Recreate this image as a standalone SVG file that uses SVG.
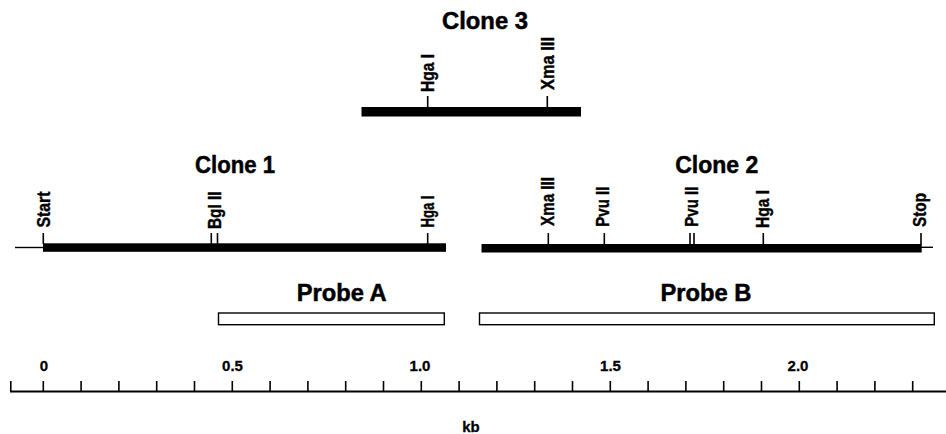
<svg xmlns="http://www.w3.org/2000/svg" width="946" height="434" viewBox="0 0 946 434">
<style>
.bg{fill:#fff}
.bar{fill:#000}
.tk{stroke:#000;stroke-width:1.6;fill:none}
.thin{stroke:#000;stroke-width:1.4;fill:none}
.probe{fill:#fff;stroke:#000;stroke-width:1.4}
.title{font-family:"Liberation Sans",Arial,sans-serif;font-weight:bold;font-size:24px;fill:#000;stroke:#000;stroke-width:0.5;text-anchor:middle}
.lab{font-family:"Liberation Sans",Arial,sans-serif;font-weight:bold;font-size:18px;fill:#000;stroke:#000;stroke-width:0.4;text-anchor:start}
.num{font-family:"Liberation Sans",Arial,sans-serif;font-weight:bold;font-size:15px;fill:#000;stroke:#000;stroke-width:0.3;text-anchor:middle}
.axis{stroke:#000;stroke-width:2;fill:none}
</style>
<rect class="bg" x="0" y="0" width="946" height="434"/>

<g id="clone3">
  <text class="title" x="485" y="28.5" textLength="86" lengthAdjust="spacingAndGlyphs">Clone 3</text>
  <rect class="bar" x="361.5" y="107" width="219.5" height="9.5"/>
  <path class="tk" d="M427.7 96V107M547.3 96V107"/>
  <text class="lab" transform="translate(434,92) rotate(-90)" textLength="38" lengthAdjust="spacingAndGlyphs">Hga I</text>
  <text class="lab" transform="translate(553.5,90) rotate(-90)" textLength="53" lengthAdjust="spacingAndGlyphs">Xma III</text>
</g>

<g id="clone1">
  <text class="title" x="235" y="173" textLength="80" lengthAdjust="spacingAndGlyphs">Clone 1</text>
  <path class="thin" d="M15 247.5H43"/>
  <rect class="bar" x="43" y="243.3" width="403" height="8.5"/>
  <path class="tk" d="M43.3 233V244M211.3 233V244M217.5 233V244M427.7 233V244"/>
  <text class="lab" transform="translate(50,227.5) rotate(-90)" textLength="36" lengthAdjust="spacingAndGlyphs">Start</text>
  <text class="lab" transform="translate(220.5,229) rotate(-90)" textLength="37.5" lengthAdjust="spacingAndGlyphs">Bgl II</text>
  <text class="lab" transform="translate(434,227.5) rotate(-90)" textLength="32" lengthAdjust="spacingAndGlyphs">Hga I</text>
</g>

<g id="clone2">
  <text class="title" x="716.7" y="173" textLength="83" lengthAdjust="spacingAndGlyphs">Clone 2</text>
  <rect class="bar" x="481.5" y="244" width="440.2" height="8.5"/>
  <path class="thin" d="M921 247.3H933"/>
  <path class="tk" d="M548.3 233V244.5M604.3 233V244.5M690 233V244.5M694 233V244.5M763.3 233V244.5M921 233V244.5"/>
  <text class="lab" transform="translate(554,226) rotate(-90)" textLength="49" lengthAdjust="spacingAndGlyphs">Xma III</text>
  <text class="lab" transform="translate(609,226.7) rotate(-90)" textLength="40" lengthAdjust="spacingAndGlyphs">Pvu II</text>
  <text class="lab" transform="translate(698,226.7) rotate(-90)" textLength="40" lengthAdjust="spacingAndGlyphs">Pvu II</text>
  <text class="lab" transform="translate(769,228) rotate(-90)" textLength="38" lengthAdjust="spacingAndGlyphs">Hga I</text>
  <text class="lab" transform="translate(925.5,227) rotate(-90)" textLength="34" lengthAdjust="spacingAndGlyphs">Stop</text>
</g>

<g id="probeA">
  <text class="title" x="341.7" y="300.5" textLength="90" lengthAdjust="spacingAndGlyphs">Probe A</text>
  <rect class="probe" x="218.5" y="313" width="225.8" height="11.7"/>
</g>

<g id="probeB">
  <text class="title" x="706" y="300.5" textLength="91" lengthAdjust="spacingAndGlyphs">Probe B</text>
  <rect class="probe" x="479.5" y="313" width="454.8" height="11.7"/>
</g>

<g id="scale">
  <path class="axis" d="M10 391.5H946"/>
  <path class="tk" d="M10.8 381V391.5M43.3 381V391.5M81.1 381V391.5M118.9 381V391.5M156.7 381V391.5M194.5 381V391.5M232.3 381V391.5M270.1 381V391.5M307.9 381V391.5M345.7 381V391.5M383.5 381V391.5M421.3 381V391.5M459.1 381V391.5M496.9 381V391.5M534.7 381V391.5M572.5 381V391.5M610.3 381V391.5M648.1 381V391.5M685.9 381V391.5M723.7 381V391.5M761.5 381V391.5M799.3 381V391.5M837.1 381V391.5M874.9 381V391.5M912.7 381V391.5"/>
  <text class="num" x="44" y="370.5">0</text>
  <text class="num" x="232.5" y="370.5">0.5</text>
  <text class="num" x="420" y="370.5">1.0</text>
  <text class="num" x="610.5" y="370.5">1.5</text>
  <text class="num" x="798" y="370.5">2.0</text>
  <text class="num" x="471" y="431.5">kb</text>
</g>
</svg>
